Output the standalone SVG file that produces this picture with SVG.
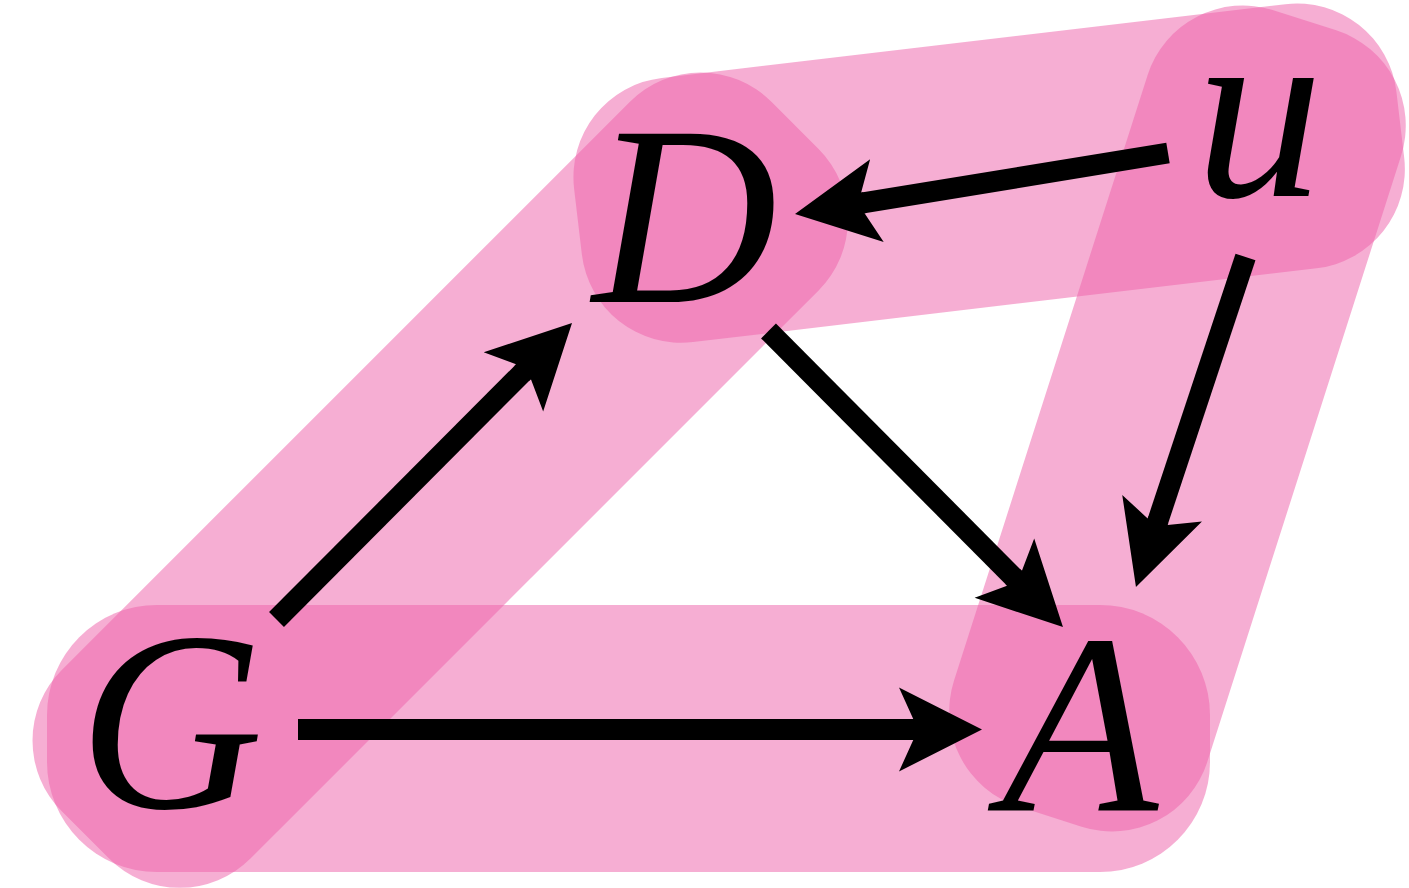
<svg xmlns="http://www.w3.org/2000/svg" width="1409" height="888" viewBox="0 0 1409 888">
  <style>
    .band { fill: rgb(238,99,170); fill-opacity: 0.52; }
    .edge { stroke: #000; stroke-width: 21; fill: none; stroke-linecap: butt; marker-end: url(#head); }
    .lbl { font-family: "Liberation Serif", "Times New Roman", serif; font-style: italic; font-size: 256px; fill: #000; text-anchor: middle; }
  </style>
  <defs>
    <marker id="head" markerUnits="userSpaceOnUse" orient="auto" refX="0" refY="0" markerWidth="10" markerHeight="10" overflow="visible">
      <path d="M69,0 L-14,-42 L0.25,-10.5 L-2,-10.5 L-2,10.5 L0.25,10.5 L-14,42 Z" fill="#000"/>
    </marker>
  </defs>
  <g id="bands">
    <rect id="band-GA" class="band" x="47" y="605" width="1163" height="267" rx="110" ry="110"/>
    <rect id="band-GD" class="band" x="-530" y="517.4" width="1003.5" height="266.8" rx="100" ry="100" transform="rotate(-45)"/>
    <rect id="band-Du" class="band" x="548" y="155" width="828" height="266" rx="100" ry="100" transform="rotate(-6.74)"/>
    <rect id="band-uA" class="band" x="1116" y="-378" width="266" height="836" rx="100" ry="100" transform="rotate(17.73)"/>
  </g>
  <g id="connectors">
    <line class="edge" x1="298" y1="729.5" x2="913" y2="729.5"/>
    <line class="edge" x1="276.5" y1="619.5" x2="523.3" y2="371.9"/>
    <line class="edge" x1="768.5" y1="331" x2="1014.3" y2="578.1"/>
    <line class="edge" x1="1168" y1="153" x2="863.1" y2="202.9"/>
    <line class="edge" x1="1245.5" y1="257" x2="1157.7" y2="521.5"/>
  </g>
  <g id="node-G"><text class="lbl" x="171" y="808">G</text></g>
  <g id="node-D"><text class="lbl" x="685" y="302">D</text></g>
  <g id="node-A"><text class="lbl" x="1080" y="811">A</text></g>
  <g id="node-u"><text class="lbl" x="1259" y="196">u</text></g>
</svg>
